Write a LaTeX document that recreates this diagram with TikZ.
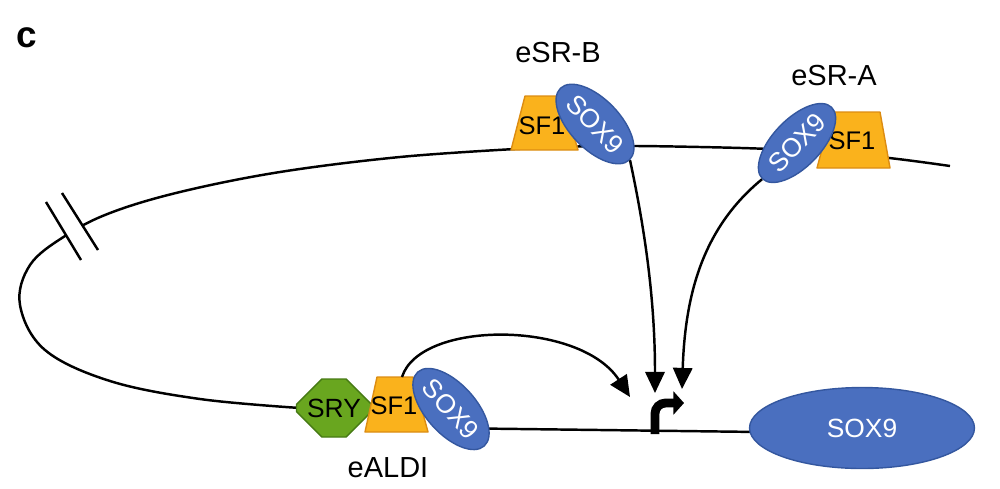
\documentclass[tikz,border=0pt]{standalone}
\usepackage{fontspec}
\setmainfont{Liberation Sans}
\usepackage{tikz}
\usetikzlibrary{arrows.meta,positioning,calc,shapes.geometric,shapes.misc}

\definecolor{soxblue}{HTML}{4A6FBF}
\definecolor{soxedge}{HTML}{34579F}
\definecolor{sforange}{HTML}{FAB21C}
\definecolor{sfedge}{HTML}{DC8C12}
\definecolor{srygreen}{HTML}{69A61F}
\definecolor{sryedge}{HTML}{467A14}

\tikzset{
	dna/.style={line width=1.4pt},
	sox/.style={ellipse,draw=soxedge,fill=soxblue,text=white,line width=0.8pt,inner sep=0pt,
		minimum width=1.96cm,minimum height=1cm,font=\fontsize{15}{18}\selectfont},
	sfshape/.style={draw=sfedge,fill=sforange,line width=0.8pt,line join=round},
	sftext/.style={inner sep=0pt,font=\fontsize{14.5}{17}\selectfont},
	srybox/.style={chamfered rectangle,chamfered rectangle xsep=0.32cm,chamfered rectangle ysep=0.32cm,
		draw=sryedge,fill=srygreen,line width=0.8pt,inner sep=0pt,minimum width=1.5cm,minimum height=1.16cm,
		font=\fontsize{15}{18}\selectfont},
	act/.style={line width=1.4pt,-{Triangle[length=12pt,width=11pt]}},
	lab/.style={font=\fontsize{16.5}{20}\selectfont}
}

\begin{document}
\begin{tikzpicture}[x=0.02cm,y=-0.02cm]
	\useasboundingbox (0,0) rectangle (1000,488);
	\node[font=\bfseries\fontsize{21}{24}\selectfont] (panel) at (27,38) {c};

	% DNA loop
	\draw[dna] plot[smooth,tension=0.6] coordinates {(300,408) (200,399) (110,381) (45,350) (20,305) (30,265) (65,236) (110,213) (180,192) (280,172) (400,157) (515,149)};
	\draw[dna] plot[smooth,tension=0.6] coordinates {(515,149) (600,146) (700,147) (790,150) (880,157) (950,166)};
	\draw[dna] (440,428) -- (760,432);
	% break
	\fill[white] (46,202) -- (62,193) -- (98,250) -- (81,260) -- cycle;
	\draw[line width=1.4pt] (46,202) -- (81,260);
	\draw[line width=1.4pt] (62,193) -- (98,250);

	% target gene
	\node[ellipse,draw=soxedge,fill=soxblue,text=white,line width=0.8pt,minimum width=4.5cm,minimum height=1.62cm,
		font=\fontsize{15}{18}\selectfont] (gene) at (862,428) {SOX9};

	% eSR-B
	\filldraw[sfshape] (511,150) -- (525,96) -- (562,96) -- (578,150) -- cycle;
	\node[sftext] (sfB) at (542,126) {SF1};
	\node[sox,rotate=-46] (soxB) at (595,124) {SOX9};
	\node[lab] (esrb) at (558,53) {eSR-B};

	% eSR-A
	\filldraw[sfshape] (817,168) -- (832,112) -- (880,112) -- (890,168) -- cycle;
	\node[sftext] (sfA) at (852,141) {SF1};
	\node[sox,rotate=46,minimum width=1.82cm,minimum height=0.96cm] (soxA) at (797,143) {SOX9};
	\node[lab] (esra) at (834,76) {eSR-A};

	% eALDI
	\node[srybox] (sry) at (334,408) {SRY};
	\filldraw[sfshape] (365,432) -- (377,377) -- (413,377) -- (428,432) -- cycle;
	\node[sftext] (sfC) at (394,406) {SF1};
	\node[sox,rotate=-48,minimum width=1.92cm] (soxC) at (451,409) {SOX9};
	\node[lab] (ealdi) at (388,468) {eALDI};

	% promoter
	\coordinate (tss) at (655,434);
	\draw[line width=5pt,rounded corners=6pt,-{Triangle[length=6pt,width=13pt]}] (tss) -- ++(0,-31) -- ++(29,0);

	% activation
	\coordinate (loopstart) at (402,377);
	\coordinate (tA) at (630,397);
	\coordinate (tB) at (655,393);
	\coordinate (tC) at (682,389);
	\draw[act] (loopstart) .. controls (420,320) and (580,320) .. (tA);
	\draw[act] (soxB.east) .. controls (645,230) and (655,300) .. (tB);
	\draw[act] (soxA.west) .. controls (700,230) and (685,300) .. (tC);
\end{tikzpicture}
\end{document}
